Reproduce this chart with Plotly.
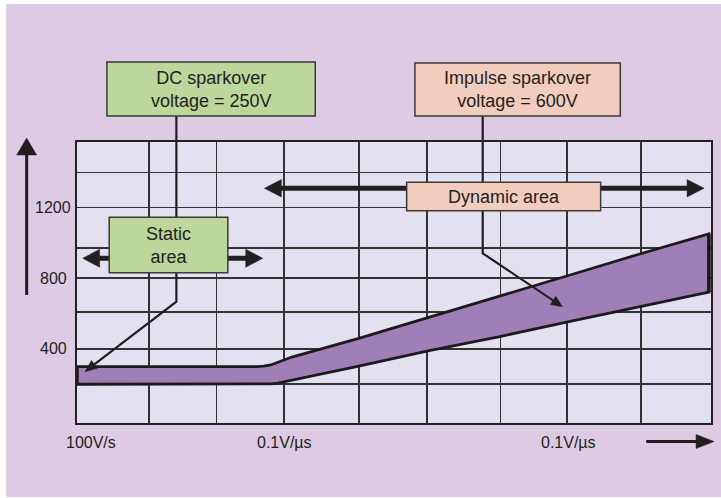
import plotly.graph_objects as go

# ---------------- data ----------------
# x axis: arbitrary log-rate "decades" (0..9), y axis: sparkover voltage (V)
upper_x = [0, 2.55, 2.65, 2.75, 2.85, 2.95, 3.05, 4.0, 5.0, 6.0, 7.0, 8.0, 8.97]
upper_v = [300, 300, 302, 309, 322, 338, 354, 460, 578, 698, 818, 938, 1050]
lower_x = [0, 2.65, 2.75, 2.85, 2.95, 3.1, 4.0, 5.0, 6.0, 7.0, 8.0, 8.97]
lower_v = [200, 200, 202, 207, 215, 228, 302, 390, 470, 555, 638, 721]

x_grid = [0, 1.02, 1.98, 2.94, 4.0, 4.97, 6.01, 6.96, 8.01, 9.0]
y_grid = [-19, 200, 400, 608, 800, 971, 1200, 1398, 1570]

y_tick_vals = [400, 800, 1200]
y_tick_text = ["400", "800", "1200"]
x_tick_pos = [0.2, 2.94, 6.97]
x_tick_text = ["100V/s", "0.1V/µs", "0.1V/µs"]

# ---------------- layout geometry ----------------
W, H = 721, 498
PL, PR, PT, PB = 77, 713, 142, 423
FONT = "Liberation Sans, Arial, sans-serif"
TXT = "#231f20"
BG = "#dccbe3"
PLOTBG = "#e3e1f0"
PURPLE = "#a07fb8"
GREEN = "#bdd69b"
PEACH = "#f2cdbd"
GRID = "#333333"


def px(x, y):
    return (x - PL) / (PR - PL), (PB - y) / (PB - PT)


def path(points, close=False):
    s = ""
    for i, (x, y) in enumerate(points):
        X, Y = px(x, y)
        s += ("M" if i == 0 else " L") + f"{X:.5f},{Y:.5f}"
    if close:
        s += " Z"
    return s


shapes = []


def add_rect(x0, y0, x1, y1, fill, line_color=None, lw=0, layer="above"):
    X0, Y0 = px(x0, y0)
    X1, Y1 = px(x1, y1)
    shapes.append(dict(type="rect", xref="paper", yref="paper", x0=X0, y0=Y0, x1=X1, y1=Y1,
                       fillcolor=fill, line=dict(color=line_color or fill, width=lw), layer=layer))


def add_poly(points, color, lw=0, fill=None, close=False):
    d = dict(type="path", xref="paper", yref="paper", path=path(points, close),
             line=dict(color=color, width=lw), layer="above")
    if fill:
        d["fillcolor"] = fill
    shapes.append(d)


def head(tip, base_center, half_w):
    tx, ty = tip
    bx, by = base_center
    dx, dy = tx - bx, ty - by
    L = (dx * dx + dy * dy) ** 0.5
    nx, ny = -dy / L, dx / L
    pts = [(tx, ty), (bx + nx * half_w, by + ny * half_w), (bx - nx * half_w, by - ny * half_w)]
    add_poly(pts, TXT, 0.5, fill=TXT, close=True)


def thick_arrow(x0, y0, tip, head_len, half_w, lw):
    tx, ty = tip
    dx, dy = tx - x0, ty - y0
    L = (dx * dx + dy * dy) ** 0.5
    bx, by = tx - dx / L * head_len, ty - dy / L * head_len
    add_poly([(x0, y0), (bx + dx / L * 1, by + dy / L * 1)], TXT, lw)
    head((tx, ty), (bx, by), half_w)


# background frame (white borders)
add_rect(-10, -10, 731, 4, "white", layer="below")
add_rect(-10, -10, 6, 508, "white", layer="below")
add_rect(-10, 497, 731, 508, "white", layer="below")

# callout connector lines with small arrowheads
add_poly([(176.7, 116), (176.7, 301.7), (89.5, 368.2)], TXT, 2.2)
head((85, 371.7), (94.5, 364.4), 5)
add_poly([(484, 116), (484, 253.3), (556, 301.4)], TXT, 2.2)
head((564, 306.7), (554.5, 300.4), 5)

# static-area double arrow
thick_arrow(176, 258.3, (82.7, 258.3), 17, 9, 5)
thick_arrow(176, 258.3, (263.3, 258.3), 17, 9, 5)
# dynamic-area double arrow
thick_arrow(505, 188.3, (265, 188.3), 17, 8.7, 5)
thick_arrow(505, 188.3, (706, 188.3), 17, 8.7, 5)

# axis arrows
thick_arrow(26.5, 295, (26.5, 138), 17, 10, 3)
thick_arrow(648, 441.5, (716, 441.5), 18, 7, 3)

# boxes
boxes = [
    (107, 62, 316, 116, GREEN, "DC sparkover<br>voltage = 250V"),
    (416, 63, 622, 116, PEACH, "Impulse sparkover<br>voltage = 600V"),
    (109.3, 217.3, 228.3, 272.7, GREEN, "Static<br>area"),
    (407.7, 182.3, 602.3, 210.7, PEACH, "Dynamic area"),
]
annotations = []
for x0, y0, x1, y1, col, text in boxes:
    add_rect(x0, y0, x1, y1, col, "#3a3a3a", 1.5)
    cx, cy = px((x0 + x1) / 2, (y0 + y1) / 2)
    annotations.append(dict(x=cx, y=cy, xref="paper", yref="paper", text=text, showarrow=False,
                            font=dict(family=FONT, size=18, color=TXT), xanchor="center",
                            yanchor="middle", align="center"))

# tick labels
for v, t in zip(y_tick_vals, y_tick_text):
    annotations.append(dict(x=px(53, 0)[0], y=v, xref="paper", yref="y", text=t, showarrow=False,
                            font=dict(family=FONT, size=16, color=TXT), xanchor="center", yanchor="middle"))
for xv, t in zip(x_tick_pos, x_tick_text):
    annotations.append(dict(x=xv, y=px(0, 442.5)[1], xref="x", yref="paper", text=t, showarrow=False,
                            font=dict(family=FONT, size=16, color=TXT), xanchor="center", yanchor="middle"))

fig = go.Figure()
fig.add_trace(go.Scatter(x=lower_x + upper_x[::-1], y=lower_v + upper_v[::-1], mode="lines",
                         fill="toself", fillcolor=PURPLE, line=dict(color="#1e1a1c", width=2.8),
                         hoverinfo="skip", showlegend=False))
fig.add_trace(go.Scatter(x=[0, 0], y=[200, 300], mode="lines", line=dict(color="#1e1a1c", width=3.5),
                         showlegend=False, hoverinfo="skip"))
fig.add_trace(go.Scatter(x=[8.97, 8.97], y=[721, 1050], mode="lines", line=dict(color="#1e1a1c", width=3.5),
                         showlegend=False, hoverinfo="skip"))

fig.update_layout(
    width=W, height=H,
    margin=dict(l=PL, r=W - PR, t=PT, b=H - PB, pad=0),
    paper_bgcolor=BG, plot_bgcolor=PLOTBG,
    showlegend=False,
    shapes=shapes, annotations=annotations,
    xaxis=dict(range=[0, 9], tickvals=x_grid, showticklabels=False, ticks="", showgrid=True,
               gridcolor=GRID, gridwidth=1.6, zeroline=False, showline=True, linecolor="#222222",
               linewidth=2, mirror=True, fixedrange=True),
    yaxis=dict(range=[-19, 1570], tickvals=y_grid, showticklabels=False, ticks="", showgrid=True,
               gridcolor=GRID, gridwidth=1.6, zeroline=False, showline=True, linecolor="#222222",
               linewidth=2, mirror=True, fixedrange=True),
)

fig.write_html("out.html", config={"staticPlot": True},
               post_script="document.body.style.margin='0px';document.body.style.overflow='hidden';")
